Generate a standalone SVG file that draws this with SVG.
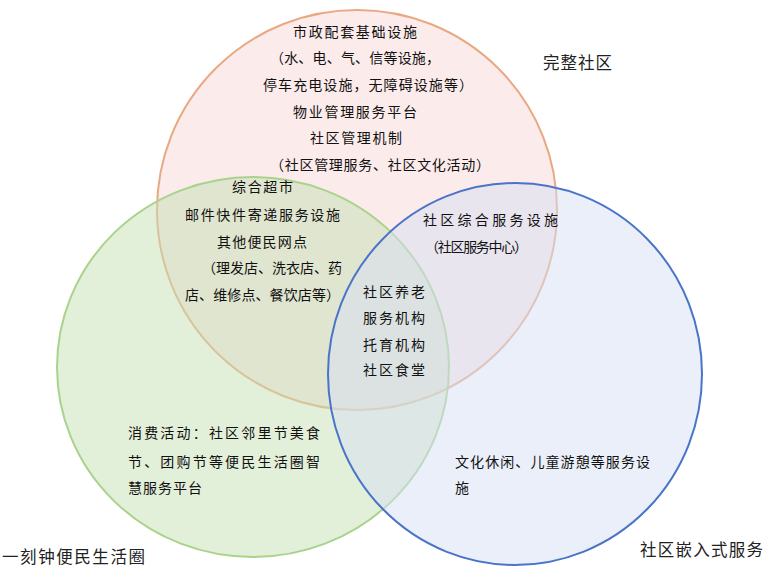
<svg xmlns="http://www.w3.org/2000/svg" width="770" height="569" viewBox="0 0 770 569">
<style>
text{font-family:"Noto Sans CJK SC","Noto Sans",sans-serif;fill:#111;}
.t{font-size:14px;}
.o{font-size:16.5px;fill:#222;}
.ring{stroke-width:2;}
</style>
<rect width="770" height="569" fill="#fff"/>
<g id="complete-community">
<ellipse class="ring" cx="357" cy="210" rx="200" ry="200" fill="#f6d2d2" fill-opacity="0.45" stroke="#e8a982"/>
</g>
<g id="convenience-circle">
<ellipse class="ring" cx="253" cy="367" rx="196" ry="190" fill="#c5e0b4" fill-opacity="0.5" stroke="#a9d38c"/>
</g>
<g id="embedded-service">
<ellipse class="ring" cx="515" cy="374" rx="187" ry="191" fill="#d6e0f3" fill-opacity="0.5" stroke="#4a74c9"/>
</g>
<g id="labels-complete">
<text class="t" x="293" y="37" textLength="124" lengthAdjust="spacing">市政配套基础设施</text>
<text class="t" x="270" y="63" textLength="170" lengthAdjust="spacing">（水、电、气、信等设施，</text>
<text class="t" x="263" y="90" textLength="210" lengthAdjust="spacing">停车充电设施，无障碍设施等）</text>
<text class="t" x="293" y="117" textLength="124" lengthAdjust="spacing">物业管理服务平台</text>
<text class="t" x="310" y="143" textLength="92" lengthAdjust="spacing">社区管理机制</text>
<text class="t" x="270" y="170" textLength="220" lengthAdjust="spacing">（社区管理服务、社区文化活动）</text>
</g>
<g id="labels-complete-convenience">
<text class="t" x="232" y="192" textLength="61" lengthAdjust="spacing">综合超市</text>
<text class="t" x="185" y="220" textLength="155" lengthAdjust="spacing">邮件快件寄递服务设施</text>
<text class="t" x="217" y="247" textLength="90" lengthAdjust="spacing">其他便民网点</text>
<text class="t" x="202" y="273" textLength="140" lengthAdjust="spacing">（理发店、洗衣店、药</text>
<text class="t" x="185" y="300" textLength="155" lengthAdjust="spacing">店、维修点、餐饮店等）</text>
</g>
<g id="labels-complete-embedded">
<text class="t" x="423" y="225" textLength="135" lengthAdjust="spacing">社区综合服务设施</text>
<text class="t" x="425" y="252" textLength="103" lengthAdjust="spacing">（社区服务中心）</text>
</g>
<g id="labels-center">
<text class="t" x="363" y="297" textLength="62" lengthAdjust="spacing">社区养老</text>
<text class="t" x="363" y="323" textLength="62" lengthAdjust="spacing">服务机构</text>
<text class="t" x="363" y="350" textLength="62" lengthAdjust="spacing">托育机构</text>
<text class="t" x="363" y="375" textLength="62" lengthAdjust="spacing">社区食堂</text>
</g>
<g id="labels-convenience">
<text class="t" x="128" y="438" textLength="192" lengthAdjust="spacing">消费活动：社区邻里节美食</text>
<text class="t" x="128" y="467" textLength="192" lengthAdjust="spacing">节、团购节等便民生活圈智</text>
<text class="t" x="128" y="493" textLength="74" lengthAdjust="spacing">慧服务平台</text>
</g>
<g id="labels-embedded">
<text class="t" x="455" y="467" textLength="195" lengthAdjust="spacing">文化休闲、儿童游憩等服务设</text>
<text class="t" x="455" y="493">施</text>
</g>
<g id="titles">
<text class="o" x="543" y="69" textLength="69" lengthAdjust="spacing">完整社区</text>
<text class="o" x="2" y="563" textLength="143" lengthAdjust="spacing">一刻钟便民生活圈</text>
<text class="o" x="640" y="556" textLength="123" lengthAdjust="spacing">社区嵌入式服务</text>
</g>
<g id="connectors"></g>
</svg>
